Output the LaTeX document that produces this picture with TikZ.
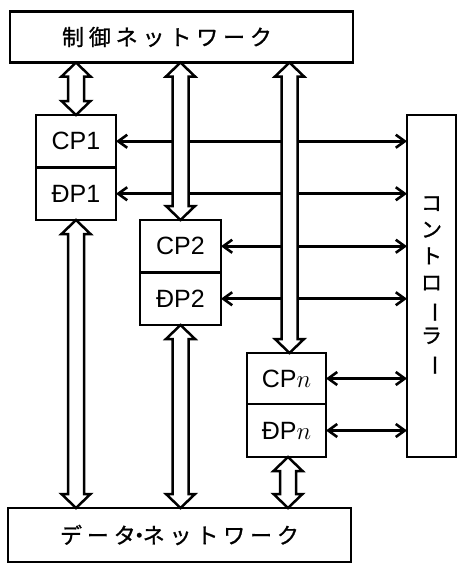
\documentclass[tikz,border=0pt]{standalone}
\usepackage{fontspec}
\setmainfont{Liberation Sans}
\newfontfamily\jpfont[FakeBold=1]{Noto Sans CJK JP}
\usetikzlibrary{arrows.meta,calc}
\newcommand\hollowarrow[2]{%
  \draw[hollowarr] let \p1=#1, \p2=#2 in
   (\x1,\y1) -- (\x1+14.5pt,\y1-14pt) -- (\x1+8pt,\y1-14pt) -- (\x1+8pt,\y2+14pt)
   -- (\x1+14.5pt,\y2+14pt) -- (\x1,\y2) -- (\x1-14.5pt,\y2+14pt) -- (\x1-8pt,\y2+14pt)
   -- (\x1-8pt,\y1-14pt) -- (\x1-14.5pt,\y1-14pt) -- cycle;}
\begin{document}
\begin{tikzpicture}[x=1pt,y=-1pt,
  box/.style={draw,line width=2.8pt,inner sep=0pt,outer sep=0pt},
  unit/.style={box,minimum width=80pt,minimum height=52.5pt,font=\fontsize{25}{25}\selectfont},
  jptext/.style={font=\jpfont\fontsize{22}{22}\selectfont\addfontfeature{LetterSpace=22}},
  hollowarr/.style={draw,fill=white,line width=2.5pt,line join=miter},
  thinarr/.style={line width=2.6pt,arrows={Straight Barb[length=9pt,width=13pt]-Straight Barb[length=9pt,width=13pt]}}]
\useasboundingbox[fill=white] (0,0) rectangle (459,565);
% boxes
\node[box,minimum width=343pt,minimum height=51pt] (ctrlnet) at (181.5,37) {};
\node[jptext] (ctrlnetlabel) at (167,37) {制御ネットワーク};
\node[box,minimum width=343pt,minimum height=54pt,jptext] (datanet) at (179.5,535)
  {データ\kern-7.5pt・\kern-7.5ptネットワーク};
\node[unit] (cp1) at (76,141.25) {CP1};
\node[unit] (dp1) at (76,193.75) {ĐP1};
\node[unit,minimum width=81pt] (cp2) at (180.5,246.25) {CP2};
\node[unit,minimum width=81pt] (dp2) at (180.5,298.75) {ĐP2};
\node[unit,minimum width=79pt,minimum height=51pt] (cpn) at (286.5,378.5) {CP$n$};
\node[unit,minimum width=79pt,minimum height=53pt] (dpn) at (286.5,430.5) {ĐP$n$};
\node[box,minimum width=49pt,minimum height=342pt,align=center,
  font=\jpfont\fontsize{21}{26.5}\selectfont] (ctrl) at (431.5,286)
  {コ\\ン\\ト\\ロ\\\rotatebox[origin=c]{-90}{ー}\\ラ\\\rotatebox[origin=c]{-90}{ー}};
% thin two-headed connectors
\foreach \n in {cp1,dp1,cp2,dp2,cpn,dpn}
  \draw[thinarr] (\n.east) -- (\n.east -| ctrl.west);
% hollow double arrows
\coordinate (tn) at ([xshift=3pt]cpn.north);
\coordinate (bn) at ([xshift=1.5pt]dpn.south);
\hollowarrow{(cp1.north |- ctrlnet.south)}{(cp1.north)}
\hollowarrow{(cp2.north |- ctrlnet.south)}{(cp2.north)}
\hollowarrow{(tn |- ctrlnet.south)}{(tn)}
\hollowarrow{(dp1.south)}{(dp1.south |- datanet.north)}
\hollowarrow{(dp2.south)}{(dp2.south |- datanet.north)}
\hollowarrow{(bn)}{(bn |- datanet.north)}
\end{tikzpicture}
\end{document}
